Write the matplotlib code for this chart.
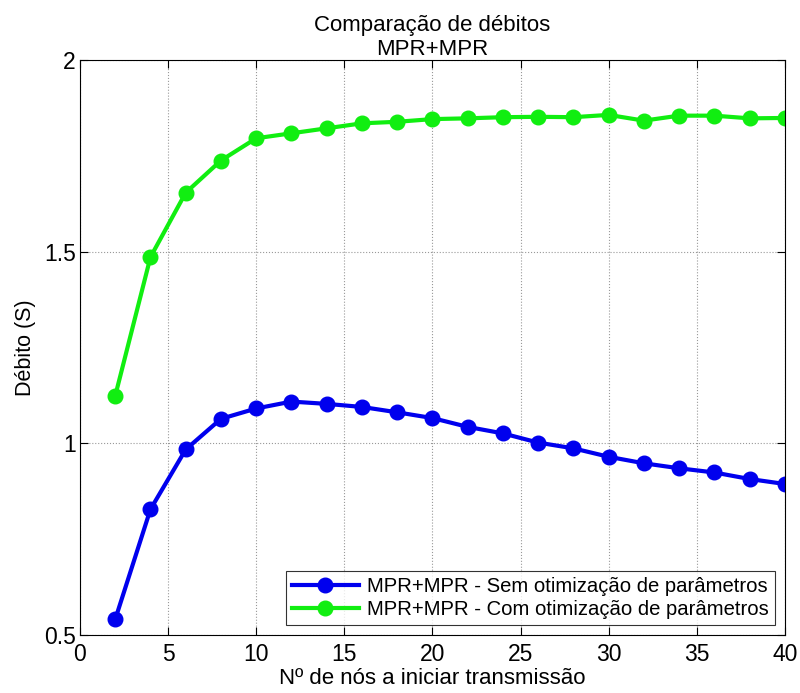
import matplotlib.pyplot as plt
import numpy as np

plt.rcParams['font.family'] = ['Liberation Sans', 'DejaVu Sans']

# number of nodes starting transmission
nos = np.array([2, 4, 6, 8, 10, 12, 14, 16, 18, 20, 22, 24, 26, 28, 30, 32, 34, 36, 38, 40])

# throughput without parameter optimisation
sem_otim = np.array([0.541, 0.828, 0.984, 1.064, 1.091, 1.109, 1.103, 1.095, 1.081, 1.066,
                     1.043, 1.026, 1.002, 0.987, 0.965, 0.948, 0.935, 0.924, 0.907, 0.894])

# throughput with parameter optimisation
com_otim = np.array([1.124, 1.486, 1.654, 1.738, 1.796, 1.809, 1.822, 1.835, 1.839, 1.846,
                     1.848, 1.851, 1.852, 1.851, 1.857, 1.842, 1.855, 1.855, 1.848, 1.849])

xticks = [0, 5, 10, 15, 20, 25, 30, 35, 40]
yticks = [0.5, 1, 1.5, 2]
ytick_labels = ['0.5', '1', '1.5', '2']

fig = plt.figure(figsize=(8, 6.93), dpi=100)
ax = fig.add_axes([0.1, 0.0837, 0.881, 0.8296])

ax.plot(nos, sem_otim, '-o', color='#0000ee', lw=3, ms=10.5,
        label='MPR+MPR - Sem otimização de parâmetros')
ax.plot(nos, com_otim, '-o', color='#11ee11', lw=3, ms=10.5,
        label='MPR+MPR - Com otimização de parâmetros')

ax.set_xlim(0, 40)
ax.set_ylim(0.5, 2)
ax.set_xticks(xticks)
ax.set_yticks(yticks)
ax.set_yticklabels(ytick_labels)
ax.tick_params(direction='in', length=6, top=True, right=True, labelsize=16.5, pad=3)
ax.tick_params(axis='x', pad=6)
ax.grid(True, linestyle=':', color='#999999', linewidth=0.8)
for s in ax.spines.values():
    s.set_linewidth(0.8)

ax.set_xlabel('Nº de nós a iniciar transmissão', fontsize=16, labelpad=1)
ax.set_ylabel('Débito (S)', fontsize=15.5, labelpad=6)
ax.set_title('Comparação de débitos\nMPR+MPR', fontsize=16, pad=4, linespacing=1.15)

leg = ax.legend(loc='lower right', fontsize=14.6, frameon=True, fancybox=False,
                edgecolor='black', borderaxespad=0.5, handlelength=3.3,
                borderpad=0.3, labelspacing=0.2, handletextpad=0.4)
leg.get_frame().set_linewidth(0.8)

fig.savefig('out.png', dpi=100)
